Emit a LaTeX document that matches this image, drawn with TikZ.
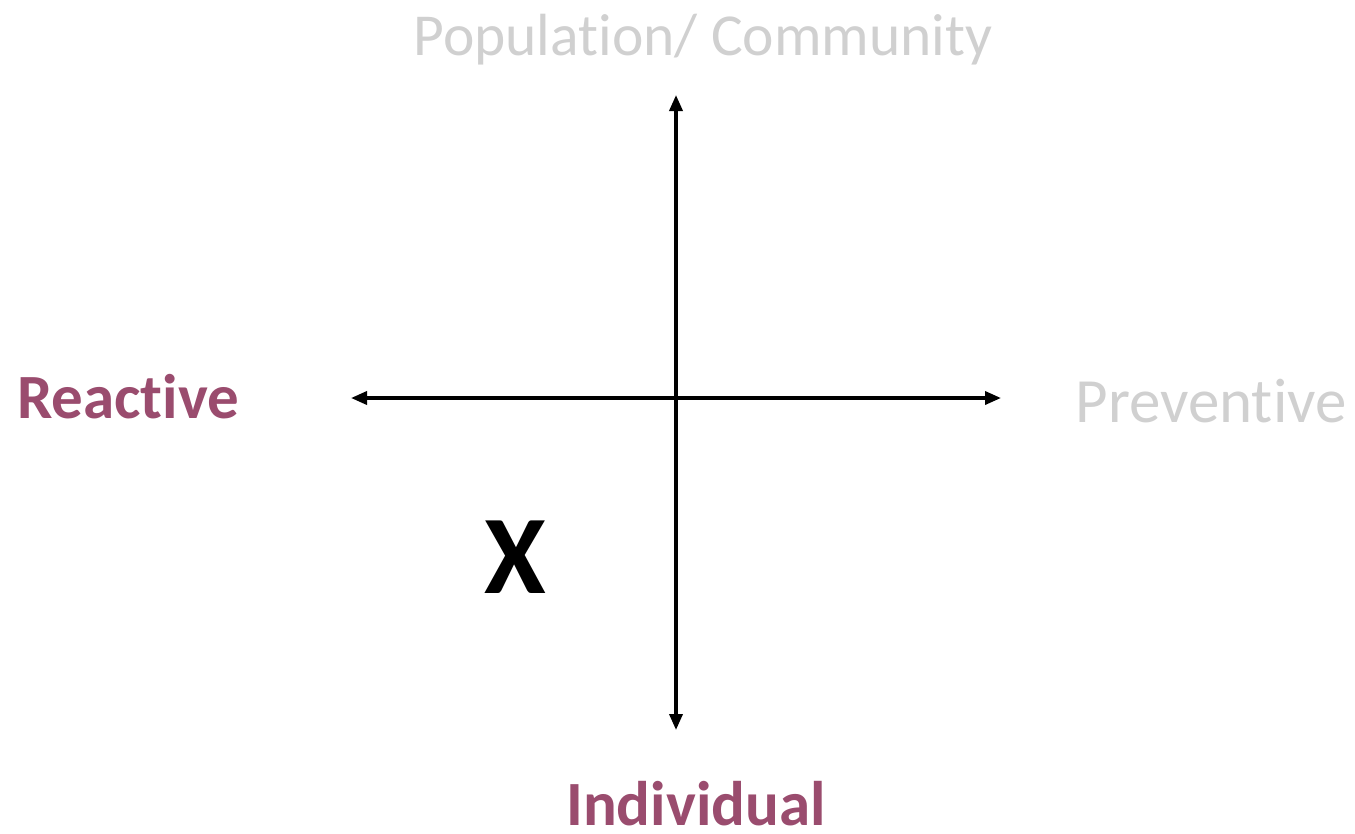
\documentclass[tikz,border=0pt]{standalone}
\usepackage{fontspec}
\setmainfont[Ligatures=NoCommon]{Carlito}
\usetikzlibrary{arrows.meta}
\definecolor{plum}{HTML}{9A4C6E}
\definecolor{lgray}{HTML}{D0D0D0}
\begin{document}
\begin{tikzpicture}[x=1pt,y=-1pt,
  axis/.style={line width=3.5pt,{Triangle[length=16pt,width=13pt]}-{Triangle[length=16pt,width=13pt]}},
  graylbl/.style={text=lgray,font=\fontsize{60}{64}\selectfont,inner sep=0pt},
  plumlbl/.style={text=plum,font=\fontsize{63}{66}\selectfont\bfseries,inner sep=0pt}]
\useasboundingbox (0,0) rectangle (1355,833);
\coordinate (L) at (351,398);
\coordinate (R) at (1001,398);
\coordinate (T) at (676,95);
\coordinate (B) at (676,730);
\draw[axis] (L) -- (R);
\draw[axis] (T) -- (B);
\node[graylbl,font=\fontsize{59.5}{64}\selectfont] (pop) at (703,40) {Population/ Community};
\node[graylbl,font=\fontsize{63}{66}\selectfont] (prev) at (1211,401) {Preventive};
\node[plumlbl] (reac) at (128,397) {Reactive};
\node[plumlbl] (ind) at (696,804) {Individual};
\node[inner sep=0pt,font=\fontsize{112}{116}\selectfont\bfseries] (x) at (515,557) {X};
\end{tikzpicture}
\end{document}
